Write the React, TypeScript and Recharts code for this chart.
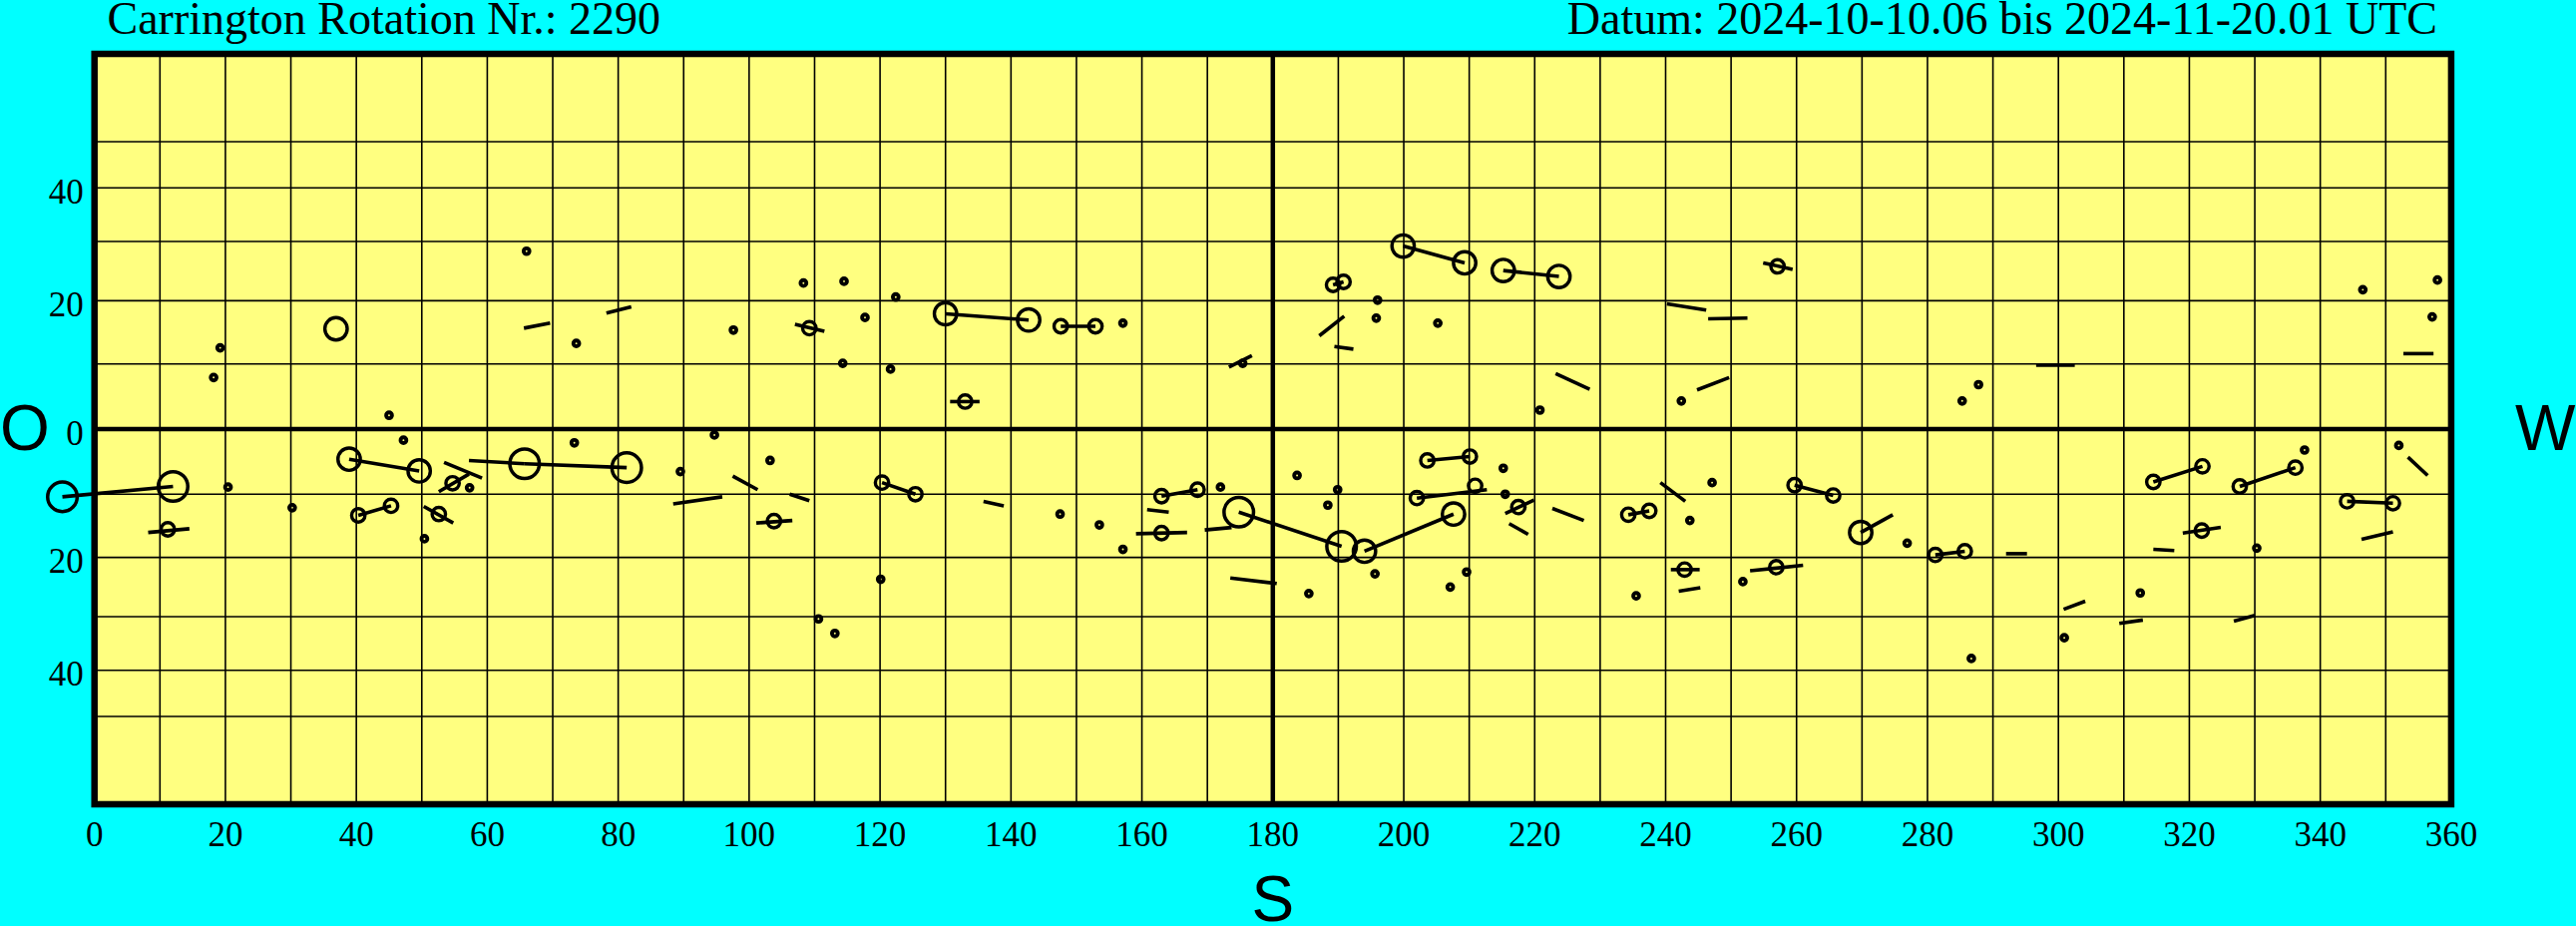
import React from 'react';
import { ComposedChart, Scatter, XAxis, YAxis, CartesianGrid, ReferenceLine, ReferenceDot, ReferenceArea } from 'recharts';

// Carrington rotation 2290 – sunspot groups, lon/lat in degrees
const titleLeft = 'Carrington Rotation Nr.: 2290';
const titleRight = 'Datum: 2024-10-10.06 bis 2024-11-20.01 UTC';

const lonTicks = [0, 10, 20, 30, 40, 50, 60, 70, 80, 90, 100, 110, 120, 130, 140, 150, 160, 170, 180,
  190, 200, 210, 220, 230, 240, 250, 260, 270, 280, 290, 300, 310, 320, 330, 340, 350, 360];
const lonLabels = [0, 20, 40, 60, 80, 100, 120, 140, 160, 180, 200, 220, 240, 260, 280, 300, 320, 340, 360];
const latTicks = [-50, -40, -30, -20, -10, 0, 10, 20, 30, 40, 50];
const latLabels = [-40, -20, 0, 20, 40];

type Pt = [number, number];
type Seg = [number, number, number, number];

const tinySpots: Pt[] = [
  [19.2, 12.5], [18.2, 7.9], [20.4, -8.9], [30.2, -12.1], [45.0, 2.1], [47.2, -1.7], [57.3, -9.0], [50.4, -17.0],
  [66.0, 28.3], [73.6, 13.2], [97.6, 15.3], [108.3, 22.9], [114.5, 23.2], [122.4, 20.6], [117.7, 17.3], [114.3, 10.1],
  [121.6, 9.2], [73.3, -2.1], [89.5, -6.5], [94.7, -0.9], [103.2, -4.8], [120.1, -23.6], [110.6, -30.4], [113.1, -33.0],
  [157.1, 16.4], [147.5, -13.1], [153.5, -14.8], [157.1, -18.7], [172.0, -8.9], [183.7, -7.1], [185.5, -26.0], [175.4, 10.1],
  [215.2, -6.0], [215.5, -10.0], [189.9, -9.3], [188.4, -11.7], [195.6, -22.7], [209.6, -22.4], [207.1, -24.9],
  [196.0, 20.1], [195.8, 17.2], [205.2, 16.4], [220.8, 2.9], [242.4, 4.3], [247.1, -8.2], [243.7, -14.1], [235.5, -26.4],
  [287.8, 6.8], [285.3, 4.3], [276.9, -17.7], [251.8, -24.0], [286.7, -37.7], [300.9, -33.8],
  [337.6, -3.2], [352.0, -2.5], [330.3, -18.5], [312.5, -25.9], [346.5, 21.8], [357.9, 23.4], [357.1, 17.4],
];

const smallSpots: Pt[] = [
  [11.2, -15.5], [40.3, -13.3], [45.3, -11.8], [54.7, -8.3], [52.6, -13.1],
  [109.2, 15.6], [103.8, -14.2], [120.3, -8.2],
  [125.4, -10.0], [147.6, 15.9], [152.9, 15.9], [133.0, 4.2], [163.0, -10.3], [168.5, -9.3], [163.0, -16.1],
  [202.0, -10.6], [210.9, -8.7], [203.6, -4.8], [210.1, -4.2], [217.5, -12.0], [189.2, 22.6], [190.8, 23.1],
  [234.3, -13.2], [237.5, -12.6], [242.9, -22.0],
  [257.1, 25.7], [259.7, -8.6], [265.6, -10.2], [281.2, -19.6], [285.7, -19.0], [256.9, -21.6],
  [314.5, -8.1], [322.0, -5.7], [327.7, -8.8], [336.2, -5.9], [344.1, -11.1], [351.1, -11.4], [321.9, -15.7],
];

const mediumSpots: Pt[] = [
  [36.9, 15.5], [38.9, -4.6], [49.6, -6.4],
  [130.0, 17.9], [142.7, 16.9],
  [194.0, -19.0], [207.6, -13.1], [199.9, 29.2], [209.3, 26.3], [215.2, 25.0], [223.7, 24.0],
  [269.8, -16.0],
];

const largeSpots: Pt[] = [
  [-4.9, -10.4], [12.0, -8.8], [65.7, -5.3], [81.3, -5.9], [174.8, -12.8], [190.5, -18.2],
];

// movement of a group between two observations
const tracks: Seg[] = [
  [-4.9, -10.4, 12.0, -8.8], [38.9, -4.6, 49.6, -6.4], [40.3, -13.3, 45.3, -11.8], [57.2, -4.8, 65.7, -5.3],
  [65.7, -5.3, 81.3, -5.9], [120.3, -8.2, 125.4, -10.0], [130.0, 17.9, 142.7, 16.9], [147.6, 15.9, 152.9, 15.9],
  [163.0, -10.3, 168.5, -9.3], [174.8, -12.8, 190.5, -18.2], [194.0, -19.0, 207.6, -13.1], [202.0, -10.6, 212.7, -9.3],
  [203.6, -4.8, 210.1, -4.2], [189.2, 22.6, 190.8, 23.1], [199.9, 29.2, 209.3, 26.3], [215.2, 25.0, 223.7, 24.0],
  [234.3, -13.2, 237.5, -12.6], [259.7, -8.6, 265.6, -10.2], [281.2, -19.6, 285.7, -19.0], [269.8, -16.0, 274.7, -13.2],
  [314.5, -8.1, 322.0, -5.7], [327.7, -8.8, 336.2, -5.9], [344.1, -11.1, 351.1, -11.4],
];

// group extent / orientation
const dashes: Seg[] = [
  [8.2, -16.0, 14.5, -15.4], [52.6, -9.6, 57.2, -6.9], [53.4, -5.1, 59.2, -7.5], [50.3, -11.9, 54.8, -14.5],
  [65.6, 15.6, 69.6, 16.4], [78.2, 18.0, 82.0, 19.0], [107.0, 16.2, 111.5, 15.1], [88.4, -11.5, 95.9, -10.4],
  [97.5, -7.2, 101.3, -9.3], [106.2, -10.0, 109.2, -11.0], [101.1, -14.5, 106.6, -14.1],
  [130.7, 4.2, 135.2, 4.2], [173.3, 9.5, 176.8, 11.3], [135.8, -11.1, 138.9, -11.8], [160.8, -12.4, 164.1, -12.8],
  [159.1, -16.2, 166.9, -16.0], [169.6, -15.6, 173.7, -15.2], [173.5, -23.4, 180.6, -24.3],
  [215.5, -13.0, 219.9, -10.9], [216.1, -14.6, 219.0, -16.3], [222.7, -12.2, 227.5, -14.1], [187.1, 14.4, 190.9, 17.5],
  [189.4, 12.7, 192.3, 12.3], [223.2, 8.5, 228.4, 6.1], [244.8, 6.0, 249.7, 7.9], [240.2, 19.5, 246.2, 18.5],
  [246.5, 17.1, 252.5, 17.2], [239.2, -8.2, 243.0, -11.1], [240.8, -22.0, 245.2, -22.0], [242.0, -25.6, 245.3, -25.0],
  [254.9, 26.3, 259.4, 25.2], [296.6, 9.8, 302.5, 9.8], [292.0, -19.4, 295.2, -19.4], [252.9, -22.2, 261.0, -21.3],
  [300.8, -28.7, 304.1, -27.3], [309.3, -31.2, 312.9, -30.6],
  [353.4, -4.3, 356.4, -7.1], [346.3, -17.1, 351.1, -15.9], [319.0, -16.1, 324.8, -15.2], [314.5, -18.7, 317.7, -18.9],
  [326.8, -30.8, 330.0, -29.8], [352.7, 11.6, 357.3, 11.6],
];

const W = 2582;
const H = 928;
const serif = '"Liberation Serif", "Times New Roman", serif';
const sans = '"Liberation Sans", Arial, sans-serif';

// latitude is drawn in sine projection
const s = (lat: number) => Math.sin((lat * Math.PI) / 180);
const toLat = (v: number) => Math.round((Math.asin(v) * 180) / Math.PI);

const LonTick = (props: any) => {
  const { x, y, payload } = props;
  if (!lonLabels.includes(payload.value)) return <g />;
  return (
    <text x={x} y={y + 42} textAnchor="middle" fontFamily={serif} fontSize={35} fill="#000">
      {payload.value}
    </text>
  );
};

const latTick = (dx: number) => (props: any) => {
  const { x, y, payload } = props;
  const lat = toLat(payload.value);
  if (!latLabels.includes(lat)) return <g />;
  return (
    <text x={x + dx} y={y + 15.5} textAnchor="end" fontFamily={serif} fontSize={35} fill="#000">
      {Math.abs(lat)}
    </text>
  );
};

const ring = (r: number, w: number) => (props: any) => (
  <circle cx={props.cx} cy={props.cy} r={r} fill="none" stroke="#000" strokeWidth={w} />
);

const spotGroups: { pts: Pt[]; r: number; w: number }[] = [
  { pts: tinySpots, r: 2.9, w: 3.9 },
  { pts: smallSpots, r: 6.7, w: 3.4 },
  { pts: mediumSpots, r: 11.2, w: 3.4 },
  { pts: largeSpots, r: 14.8, w: 3.5 },
];

const toRows = (pts: Pt[]) => pts.map(([lon, lat]) => ({ lon, y: s(lat) }));

export default function App() {
  return (
    <div style={{ position: 'absolute', left: 0, top: 0, width: W, height: H, background: '#00ffff', overflow: 'hidden' }}>
      <ComposedChart width={W} height={H} margin={{ top: 54, right: 65.1, bottom: 62, left: 14.7 }}>
        <CartesianGrid yAxisId="l" stroke="#000" strokeWidth={1.6} fill="#ffff80" fillOpacity={1} />
        <XAxis
          type="number"
          dataKey="lon"
          domain={[0, 360]}
          ticks={lonTicks}
          interval={0}
          axisLine={false}
          tickLine={false}
          tickSize={0}
          tickMargin={0}
          height={60}
          tick={LonTick}
        />
        <YAxis
          yAxisId="l"
          type="number"
          dataKey="y"
          domain={[-1, 1]}
          ticks={latTicks.map(s)}
          interval={0}
          axisLine={false}
          tickLine={false}
          tickSize={0}
          tickMargin={0}
          width={80}
          tick={latTick(-11)}
        />
        <YAxis
          yAxisId="r"
          orientation="right"
          type="number"
          domain={[-1, 1]}
          ticks={latTicks.map(s)}
          interval={0}
          axisLine={false}
          tickLine={false}
          tickSize={0}
          tickMargin={0}
          width={60}
          tick={latTick(45)}
        />
        <ReferenceLine yAxisId="l" y={0} stroke="#000" strokeWidth={4.5} />
        <ReferenceLine yAxisId="l" x={180} stroke="#000" strokeWidth={4.5} />
        {[...tracks, ...dashes].map((d, i) => (
          <ReferenceLine
            key={'seg' + i}
            yAxisId="l"
            segment={[{ x: d[0], y: s(d[1]) }, { x: d[2], y: s(d[3]) }]}
            stroke="#000"
            strokeWidth={3.6}
            ifOverflow="visible"
          />
        ))}
        {spotGroups.map((g, gi) => (
          <Scatter
            key={'spots' + gi}
            yAxisId="l"
            data={toRows(g.pts.filter((p) => p[0] >= 0))}
            shape={ring(g.r, g.w)}
            isAnimationActive={false}
          />
        ))}
        {/* group already behind the east limb, left of 0° */}
        {spotGroups.map((g, gi) =>
          g.pts
            .filter((p) => p[0] < 0)
            .map((p, i) => (
              <ReferenceDot
                key={'off' + gi + '-' + i}
                yAxisId="l"
                x={p[0]}
                y={s(p[1])}
                r={g.r}
                fill="none"
                stroke="#000"
                strokeWidth={g.w}
                ifOverflow="visible"
              />
            ))
        )}
        <ReferenceArea
          yAxisId="l"
          x1={0}
          x2={360}
          y1={-1}
          y2={1}
          fill="none"
          stroke="#000"
          strokeWidth={6.5}
          fillOpacity={0}
          strokeOpacity={1}
          ifOverflow="visible"
        />
      </ComposedChart>
      <svg width={W} height={H} style={{ position: 'absolute', left: 0, top: 0, pointerEvents: 'none' }}>
        <text x={107.5} y={34} fontFamily={serif} fontSize={46} fill="#000">{titleLeft}</text>
        <text x={2443} y={34} textAnchor="end" fontFamily={serif} fontSize={46} fill="#000">{titleRight}</text>
        <text x={0} y={450.5} fontFamily={sans} fontSize={64} fill="#000">O</text>
        <text x={2521} y={451} fontFamily={sans} fontSize={64} fill="#000">W</text>
        <text x={1275.8} y={923} textAnchor="middle" fontFamily={sans} fontSize={64} fill="#000">S</text>
      </svg>
    </div>
  );
}
